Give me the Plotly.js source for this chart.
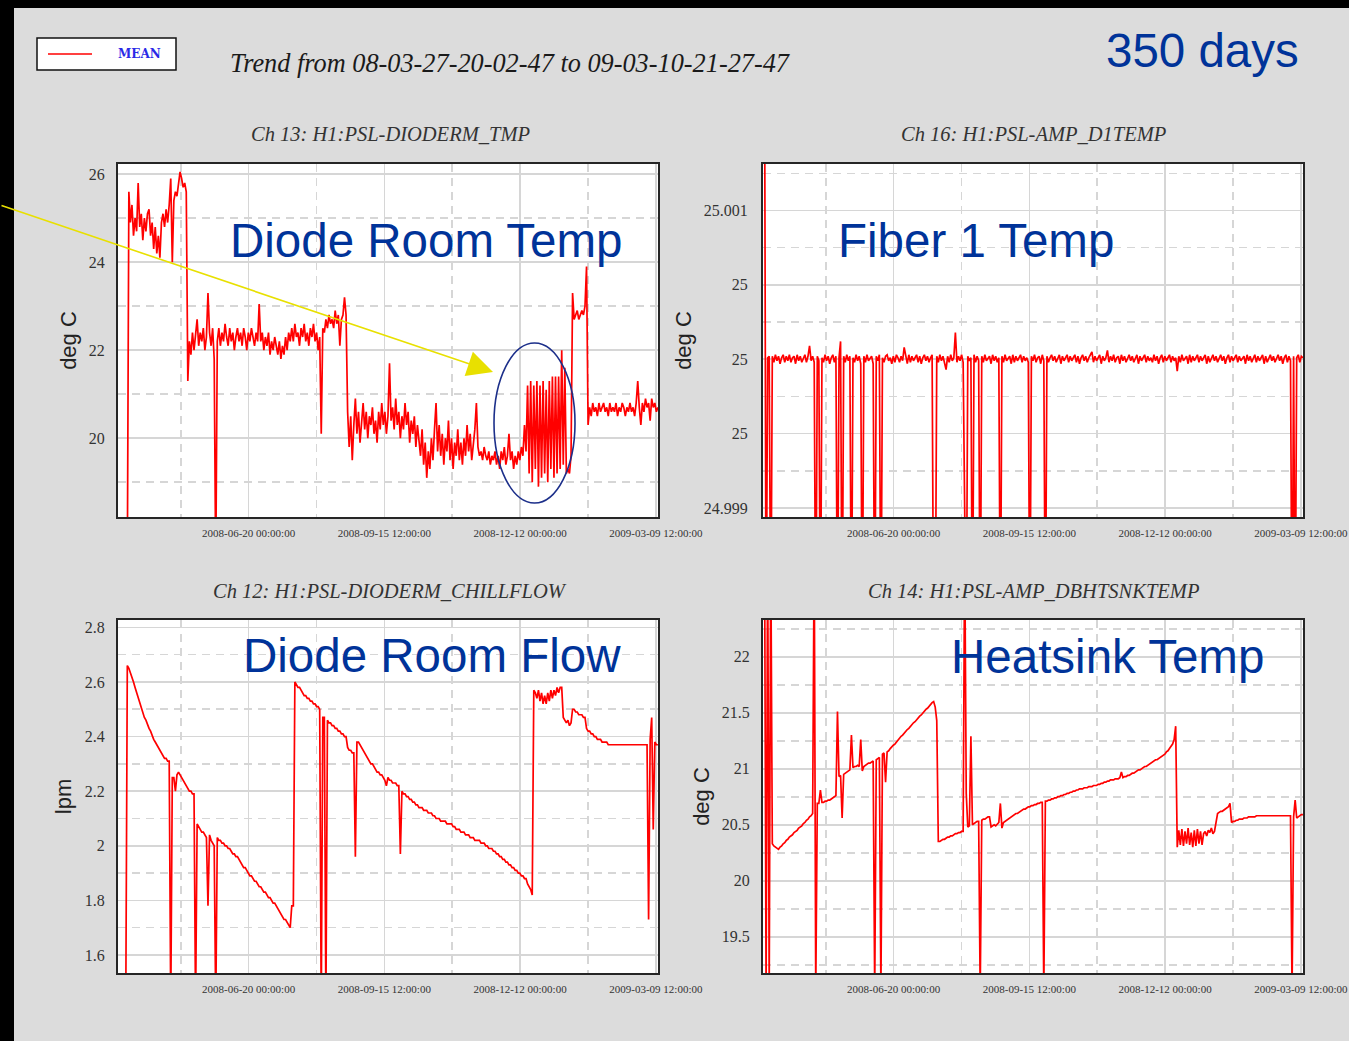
<!DOCTYPE html>
<html>
<head>
<meta charset="utf-8">
<script src="https://cdn.plot.ly/plotly-3.0.1.min.js"></script>
<style>
  html, body { margin: 0; padding: 0; background: #dcdcdc; overflow: hidden; }
  #chart { width: 1349px; height: 1041px; }
</style>
</head>
<body>
<div id="chart"></div>
<script>
// ---- Trend time base: one mean sample per day ----
const trendStartText = '2008-03-27 20:02:47';
const trendEndText = '2009-03-10 21:27:47';
const trendStartUTC = Date.UTC(2008, 2, 27, 20, 2, 47);
const sampleStepMs = 86400000;

// ---- Axis tick labels ----
const dateTick0 = '2008-06-20 00:00:00';
const dateTickDays = 87.5;          // 2008-06-20, 2008-09-15 12:00, 2008-12-12, 2009-03-09 12:00
const fiberTickVals = [24.999, 24.9995, 25, 25.0005, 25.001];
const fiberTickText = ['24.999', '25', '25', '25', '25.001'];

// ---- Channel titles / labels ----
const channelTitles = ['Ch 13: H1:PSL-DIODERM_TMP', 'Ch 16: H1:PSL-AMP_D1TEMP', 'Ch 12: H1:PSL-DIODERM_CHILLFLOW', 'Ch 14: H1:PSL-AMP_DBHTSNKTEMP'];
const channelLabels = ['Diode Room Temp', 'Fiber 1 Temp', 'Diode Room Flow', 'Heatsink Temp'];
const channelUnits = ['deg C', 'deg C', 'lpm', 'deg C'];

// ---- Ch 13 : diode room temperature (deg C), daily means ----
const diodeRoomTemp = [
null,null,null,null,null,null,17,25.6,24.9,25.3,
24.6,25.0,24.7,25.8,24.8,25.1,24.5,25.0,24.7,25.1,
25.2,24.6,24.9,24.3,24.8,24.2,24.6,24.1,24.9,25.1,
24.8,25.2,24.9,25.3,25.9,24.0,25.4,25.6,25.5,25.8,
26.05,25.9,25.7,25.8,25.6,21.3,22.2,21.9,22.4,22.0,
22.3,22.7,22.1,22.4,22.2,22.5,22.0,22.3,23.3,22.4,
22.1,22.5,21.8,17,22.2,22.5,22.1,22.4,22.2,22.6,
22.3,22.1,22.5,22.2,22.4,22.0,22.3,22.5,22.2,22.4,
22.1,22.5,22.3,22.0,22.4,22.2,22.5,22.3,22.1,22.4,
22.2,23.05,22.2,22.4,22.0,22.3,22.1,22.4,21.9,22.2,
22.0,22.3,22.1,21.9,22.2,21.8,22.1,21.9,22.3,22.0,
22.4,22.2,22.5,22.2,22.6,22.3,22.4,22.1,22.5,22.3,
22.6,22.2,22.4,22.1,22.5,22.3,22.6,22.2,22.4,22.0,
22.3,20.1,22.5,22.4,22.7,22.5,22.8,22.6,22.7,22.5,
22.9,22.6,22.8,22.1,22.7,22.8,23.2,22.8,20.6,19.8,
20.5,19.5,20.3,20.9,20.1,20.6,19.9,20.4,20.8,20.2,
20.6,20.0,20.5,20.3,20.7,20.1,20.4,19.9,20.6,20.2,
20.8,20.3,20.6,20.1,20.5,21.7,20.4,20.7,20.2,20.9,
20.3,20.6,20.0,20.5,20.2,20.8,20.3,20.6,19.9,20.4,
20.1,20.5,19.8,20.3,20.0,19.6,20.2,19.4,19.9,19.1,
19.7,19.3,20.0,19.5,20.2,20.8,19.7,20.3,19.6,20.1,
19.4,20.0,19.7,20.4,19.5,20.0,19.3,19.9,19.6,20.2,
19.5,19.9,19.4,20.0,19.6,20.3,19.7,20.1,19.5,19.9,
20.2,20.8,19.8,19.6,19.7,19.5,19.8,19.6,19.5,19.7,
19.4,19.6,19.5,19.7,19.4,19.6,19.3,19.7,19.5,19.8,
19.4,19.6,20.1,19.5,19.7,19.3,19.6,19.4,19.7,19.5,
19.8,19.6,20.3,19.7,21.2,19.2,21.3,19.0,21.2,19.3,
21.3,18.9,21.2,19.1,21.3,19.2,21.1,19.0,21.3,19.3,
21.4,19.1,21.4,19.2,21.4,19.3,22.0,19.4,21.6,19.2,
19.3,19.2,19.6,23.3,22.7,22.8,22.9,22.7,22.8,22.9,
22.8,23.0,23.9,20.3,20.7,20.5,20.8,20.6,20.7,20.5,
20.8,20.6,20.7,20.8,20.6,20.7,20.5,20.8,20.6,20.7,
20.6,20.8,20.5,20.7,20.6,20.8,20.7,20.5,20.7,20.6,
20.8,20.6,20.7,20.5,20.8,21.3,20.7,20.3,20.8,20.6,
20.9,20.7,20.8,20.4,20.9,20.7,20.8,20.6,20.7
];

// ---- Ch 16 : fiber 1 temperature (deg C), daily means ----
const fiberTemp = [
null,25.002,24.998,25.00001,25.00002,24.998,25.00002,24.99998,25.00003,24.99999,
25.00002,24.99997,25.00001,25.00003,24.99998,25.00002,24.99999,25.00003,24.99998,25.00001,
25.00002,24.99997,25.00003,24.99999,25.00002,24.99998,25.00001,25.00003,24.99998,25.00002,
25.00009,24.99999,25.00002,24.99998,24.998,25.00002,24.99999,24.998,25.00001,24.99998,
25.00003,24.99999,25.00002,24.99997,25.00001,25.00003,24.99998,25.00002,24.998,25.00001,
25.00012,24.998,25.00002,24.99998,25.00003,24.99999,25.00002,24.998,25.00001,24.99998,
25.00003,24.99999,25.00002,24.99997,24.998,25.00002,24.99998,25.00003,24.99999,25.00001,
25.00002,24.99997,24.998,25.00002,24.99999,25.00003,24.998,25.00001,24.99998,25.00002,
25.00003,24.99999,25.00001,24.99997,25.00002,24.99998,25.00003,25.00001,24.99998,25.00002,
24.99999,25.00008,25.00001,24.99997,25.00003,24.99998,25.00002,24.99999,25.00001,25.00003,
24.99998,25.00002,24.99997,25.00001,25.00003,24.99999,25.00002,24.99998,25.00001,25.00003,
24.998,24.998,25.00002,24.99998,25.00003,24.99999,25.00002,24.99997,24.99993,25.00002,
24.99998,25.00003,24.99999,25.00001,25.00018,24.99998,25.00002,24.99999,25.00003,24.99998,
24.998,24.998,25.00002,24.99999,25.00001,24.998,25.00003,24.99998,25.00002,24.99999,
24.998,25.00002,24.99998,25.00003,24.99999,25.00001,25.00002,24.99997,25.00003,24.99999,
25.00002,24.99998,25.00001,24.998,25.00002,24.99998,25.00003,24.99999,25.00001,25.00002,
24.99997,25.00003,24.99998,25.00002,24.99999,25.00001,25.00003,24.99998,25.00002,24.99999,
25.00001,24.99998,24.998,25.00002,24.99999,25.00003,24.99998,25.00001,25.00002,24.99997,
25.00003,24.99999,24.998,25.00002,24.99998,25.00001,25.00003,24.99999,25.00002,24.99998,
25.00001,25.00003,24.99997,25.00002,24.99999,25.00001,25.00003,24.99998,25.00002,24.99999,
25.00001,25.00003,24.99998,25.00002,24.99997,25.00001,25.00003,24.99999,25.00002,24.99998,
25.00001,25.00003,25.00005,24.99998,25.00002,24.99999,25.00001,25.00003,24.99997,25.00002,
24.99999,25.00001,25.00006,24.99998,25.00002,24.99999,25.00003,24.99998,25.00001,25.00002,
24.99997,25.00003,24.99999,25.00002,24.99998,25.00001,25.00003,24.99999,25.00002,24.99998,
25.00001,25.00003,24.99997,25.00002,24.99999,25.00001,25.00003,24.99998,25.00002,24.99999,
25.00001,24.99998,25.00003,24.99999,25.00002,24.99997,25.00001,25.00003,24.99998,25.00002,
24.99999,25.00001,25.00003,24.99998,25.00002,24.99999,25.00001,24.99992,25.00002,24.99998,
25.00003,24.99999,25.00001,25.00002,24.99997,25.00003,24.99998,25.00002,24.99999,25.00001,
25.00003,24.99998,25.00002,24.99999,25.00001,25.00003,24.99997,25.00002,24.99998,25.00001,
25.00003,24.99999,25.00002,24.99998,25.00001,25.00003,24.99999,25.00002,24.99997,25.00001,
25.00003,24.99998,25.00002,24.99999,25.00001,25.00003,24.99998,25.00002,24.99999,25.00001,
25.00002,24.99997,25.00003,24.99999,25.00002,24.99998,25.00001,25.00003,24.99998,25.00002,
24.99999,25.00001,25.00003,24.99997,25.00002,24.99998,25.00001,25.00003,24.99999,25.00002,
24.99998,25.00001,25.00003,24.99999,25.00002,24.99997,25.00001,25.00003,24.99998,25.00002,
24.99999,24.998,25.00002,24.998,25.00001,25.00003,24.99998,25.00002,25.00001
];

// ---- Ch 12 : diode room chiller flow (lpm), daily means ----
const chillFlow = [
null,null,null,null,null,1.4,2.66,2.65,2.63,2.62,
2.60,2.58,2.56,2.54,2.52,2.50,2.49,2.47,2.46,2.44,
2.43,2.42,2.40,2.39,2.38,2.37,2.36,2.35,2.34,2.33,
2.32,2.32,2.31,2.31,1.4,2.25,2.25,2.20,2.26,2.27,
2.26,2.25,2.24,2.23,2.22,2.21,2.20,2.20,2.19,2.19,
1.4,2.08,2.07,2.06,2.05,2.05,2.04,2.03,1.78,2.04,
2.02,2.01,2.00,1.4,2.03,2.02,2.02,2.01,2.01,2.00,
2.00,1.99,1.99,1.98,1.97,1.97,1.96,1.96,1.95,1.94,
1.93,1.92,1.92,1.91,1.90,1.89,1.89,1.88,1.87,1.87,
1.86,1.85,1.85,1.84,1.83,1.83,1.82,1.81,1.81,1.80,
1.79,1.79,1.78,1.77,1.76,1.75,1.74,1.73,1.73,1.72,
1.71,1.70,1.78,1.78,2.60,2.59,2.58,2.58,2.57,2.56,
2.55,2.55,2.54,2.54,2.53,2.53,2.52,2.52,2.51,2.51,
2.50,1.4,2.47,2.47,1.4,2.46,2.45,2.45,2.44,2.44,
2.43,2.43,2.42,2.42,2.41,2.41,2.40,2.40,2.36,2.35,
2.35,2.34,2.34,1.96,2.38,2.38,2.37,2.36,2.35,2.34,
2.33,2.32,2.31,2.30,2.30,2.29,2.28,2.27,2.27,2.26,
2.26,2.25,2.24,2.22,2.25,2.24,2.24,2.23,2.23,2.23,
2.22,2.22,1.97,2.20,2.19,2.19,2.18,2.18,2.17,2.17,
2.16,2.16,2.15,2.15,2.14,2.14,2.14,2.13,2.13,2.13,
2.12,2.12,2.12,2.11,2.11,2.10,2.10,2.10,2.09,2.09,
2.09,2.09,2.08,2.08,2.08,2.08,2.07,2.07,2.06,2.06,
2.06,2.05,2.05,2.05,2.04,2.04,2.04,2.03,2.03,2.03,
2.02,2.02,2.02,2.02,2.01,2.01,2.01,2.00,2.00,1.99,
1.99,1.99,1.98,1.98,1.97,1.97,1.96,1.96,1.95,1.95,
1.94,1.94,1.93,1.93,1.92,1.92,1.91,1.91,1.90,1.90,
1.89,1.89,1.88,1.88,1.86,1.85,1.84,1.82,2.57,2.56,
2.54,2.57,2.53,2.56,2.52,2.55,2.52,2.56,2.53,2.57,
2.54,2.57,2.55,2.58,2.56,2.58,2.58,2.47,2.46,2.45,
2.46,2.44,2.45,2.50,2.50,2.49,2.49,2.48,2.48,2.48,
2.47,2.47,2.43,2.42,2.42,2.41,2.41,2.40,2.40,2.39,
2.39,2.39,2.38,2.38,2.38,2.38,2.37,2.37,2.37,2.37,
2.37,2.37,2.37,2.37,2.37,2.37,2.37,2.37,2.37,2.37,
2.37,2.37,2.37,2.37,2.37,2.37,2.37,2.37,2.37,2.37,
2.37,2.37,1.73,2.39,2.47,2.06,2.38,2.37,2.37
];

// ---- Ch 14 : amplifier heatsink temperature (deg C), daily means ----
const heatsinkTemp = [
null,23,19,23,19,23,20.33,20.31,20.30,20.29,
20.28,20.30,20.31,20.33,20.34,20.36,20.37,20.39,20.40,20.41,
20.43,20.44,20.45,20.47,20.48,20.49,20.51,20.52,20.54,20.55,
20.57,20.58,20.60,23,19,20.69,20.69,20.81,20.70,20.70,
20.71,20.71,20.72,20.72,20.73,20.74,20.75,20.76,21.51,20.93,
20.94,20.56,20.95,20.96,20.97,20.98,20.99,21.30,21.01,21.02,
21.02,21.03,21.02,21.26,20.98,21.02,21.03,21.04,21.05,21.05,
21.06,21.07,19,21.08,21.09,21.10,19,21.13,21.14,20.88,
21.15,21.16,21.18,21.20,21.21,21.22,21.24,21.26,21.27,21.29,
21.30,21.32,21.33,21.35,21.36,21.38,21.39,21.41,21.42,21.44,
21.45,21.47,21.48,21.50,21.51,21.53,21.54,21.56,21.57,21.59,
21.60,21.55,21.43,20.35,20.35,20.36,20.37,20.37,20.38,20.39,
20.39,20.40,20.40,20.41,20.42,20.42,20.43,20.43,20.44,20.44,
23,20.78,20.48,20.49,21.29,20.50,20.51,20.52,20.53,20.53,
19,20.54,20.55,20.55,20.56,20.57,20.57,20.48,20.49,20.50,
20.49,20.51,20.52,20.69,20.47,20.52,20.53,20.54,20.55,20.56,
20.57,20.58,20.59,20.60,20.60,20.61,20.62,20.63,20.64,20.64,
20.65,20.66,20.66,20.67,20.67,20.68,20.68,20.69,20.69,20.70,
20.70,19,20.71,20.71,20.72,20.72,20.73,20.73,20.74,20.74,
20.75,20.75,20.76,20.76,20.77,20.77,20.78,20.78,20.79,20.79,
20.80,20.80,20.81,20.81,20.82,20.82,20.82,20.83,20.83,20.83,
20.84,20.84,20.84,20.85,20.85,20.85,20.86,20.86,20.87,20.87,
20.88,20.88,20.89,20.89,20.90,20.90,20.90,20.91,20.91,20.91,
20.92,20.97,20.92,20.93,20.93,20.94,20.94,20.95,20.96,20.96,
20.97,20.98,20.99,20.99,21.00,21.01,21.02,21.02,21.03,21.04,
21.05,21.06,21.07,21.08,21.08,21.09,21.10,21.11,21.12,21.13,
21.15,21.16,21.18,21.20,21.22,21.26,21.38,20.30,20.45,20.32,
20.46,20.31,20.44,20.33,20.47,20.32,20.43,20.30,20.45,20.31,
20.46,20.33,20.44,20.32,20.42,20.44,20.40,20.45,20.43,20.47,
20.42,20.44,20.52,20.60,20.61,20.62,20.62,20.63,20.64,20.65,
20.66,20.69,20.52,20.53,20.53,20.54,20.54,20.55,20.55,20.55,
20.56,20.56,20.56,20.57,20.57,20.57,20.57,20.57,20.58,20.58,
20.58,20.58,20.58,20.58,20.58,20.58,20.58,20.58,20.58,20.58,
20.58,20.58,20.58,20.58,20.58,20.58,20.58,20.58,20.58,20.58,
20.58,19,20.57,20.72,20.56,20.57,20.58,20.59,20.59
];

// ---------------------------------------------------------------
function sampleTimes(values) {
  return values.map((v, i) => new Date(trendStartUTC + i * sampleStepMs).toISOString().replace('T', ' ').slice(0, 19));
}

const W = 1349, H = 1041;
const px = x => x / W;
const py = y => 1 - y / H;
const dayMs = 86400000;
const gridColor = '#d6d6d6';
const frameColor = '#262626';
const traceColor = '#ff0000';
const labelBlue = '#003399';

function xAxis(left, right, anchor) {
  return {
    type: 'date', domain: [px(left), px(right)], anchor: anchor,
    range: [trendStartText, trendEndText],
    tickmode: 'linear', tick0: dateTick0, dtick: dateTickDays * dayMs,
    tickformat: '%Y-%m-%d %H:%M:%S', tickangle: 0,
    tickfont: { family: 'Liberation Serif', size: 11, color: '#333' },
    ticks: '', ticklabelstandoff: 5,
    showgrid: true, gridcolor: gridColor, gridwidth: 1.6,
    minor: { tick0: dateTick0, dtick: dateTickDays / 2 * dayMs, showgrid: true, gridcolor: gridColor, gridwidth: 1.6, griddash: '8px,6px' },
    showline: true, linecolor: frameColor, linewidth: 2, mirror: true,
    zeroline: false, automargin: false, fixedrange: true
  };
}
function yAxis(top, bottom, anchor, range, extra, unit, standoff) {
  return Object.assign({
    domain: [py(bottom), py(top)], anchor: anchor, range: range,
    tickfont: { family: 'Liberation Serif', size: 16, color: '#333' },
    ticks: '', ticklabelstandoff: 8,
    showgrid: true, gridcolor: gridColor, gridwidth: 1.6,
    showline: true, linecolor: frameColor, linewidth: 2, mirror: true,
    zeroline: false, automargin: false, fixedrange: true,
    title: { text: unit, standoff: standoff, font: { family: 'Liberation Sans', size: 22, color: '#222' } }
  }, extra);
}

const minorGrid = d => ({ dtick: d, showgrid: true, gridcolor: gridColor, gridwidth: 1.6, griddash: '8px,6px' });

function trace(values, xa, ya) {
  return {
    type: 'scatter', mode: 'lines', name: 'MEAN',
    x: sampleTimes(values), y: values, xaxis: xa, yaxis: ya,
    line: { color: traceColor, width: 1.7 }, connectgaps: false,
    showlegend: false, hoverinfo: 'skip'
  };
}

const data = [
  trace(diodeRoomTemp, 'x', 'y'),
  trace(fiberTemp, 'x2', 'y2'),
  trace(chillFlow, 'x3', 'y3'),
  trace(heatsinkTemp, 'x4', 'y4')
];

const serifItalic = (size, color) => ({ family: 'Liberation Serif', size: size, color: color, style: 'italic' });
const bigBlue = { family: 'Liberation Sans', size: 47.5, color: labelBlue };
function label(text, x, y, font) {
  return { text: text, xref: 'paper', yref: 'paper', x: px(x), y: py(y), xanchor: 'center', yanchor: 'middle', showarrow: false, font: font };
}

const layout = {
  width: W, height: H,
  margin: { l: 0, r: 0, t: 0, b: 0, pad: 0 },
  paper_bgcolor: '#dcdcdc', plot_bgcolor: '#ffffff',
  showlegend: false, hovermode: false,
  title: {
    text: 'Trend from 08-03-27-20-02-47 to 09-03-10-21-27-47',
    xref: 'paper', yref: 'paper', x: px(230), xanchor: 'left', y: py(63), yanchor: 'middle',
    font: serifItalic(26.3, '#1a1a1a')
  },
  xaxis: xAxis(118, 658, 'y'),
  xaxis2: xAxis(763, 1303, 'y2'),
  xaxis3: xAxis(118, 658, 'y3'),
  xaxis4: xAxis(763, 1303, 'y4'),
  yaxis: yAxis(164, 517, 'x', [18.21, 26.23], { tick0: 0, dtick: 2, minor: minorGrid(1) }, channelUnits[0], 6),
  yaxis2: yAxis(164, 517, 'x2', [24.9989395, 25.0013126], { tickmode: 'array', tickvals: fiberTickVals, ticktext: fiberTickText, ticklabelstandoff: 10, minor: Object.assign({ tick0: 25 }, minorGrid(0.00025)) }, channelUnits[1], 6),
  yaxis3: yAxis(620, 973, 'x3', [1.534, 2.827], { tick0: 0, dtick: 0.2, minor: minorGrid(0.1) }, channelUnits[2], 7),
  yaxis4: yAxis(620, 973, 'x4', [19.176, 22.328], { tick0: 0, dtick: 0.5, minor: minorGrid(0.25) }, channelUnits[3], 6),
  shapes: [
    { type: 'rect', xref: 'paper', yref: 'paper', x0: 0, x1: 1, y0: py(8), y1: 1, fillcolor: '#000', line: { width: 0 }, layer: 'below' },
    { type: 'rect', xref: 'paper', yref: 'paper', x0: 0, x1: px(14), y0: 0, y1: 1, fillcolor: '#000', line: { width: 0 }, layer: 'below' },
    { type: 'rect', xref: 'paper', yref: 'paper', x0: px(37), x1: px(176), y0: py(70), y1: py(38), fillcolor: '#fff', line: { color: '#111', width: 1.5 } },
    { type: 'line', xref: 'paper', yref: 'paper', x0: px(48), x1: px(92), y0: py(54), y1: py(54), line: { color: traceColor, width: 1.5 } },
    { type: 'circle', xref: 'paper', yref: 'paper', x0: px(494), x1: px(575), y0: py(503), y1: py(343), line: { color: '#1c2f8a', width: 1.6 } }
  ],
  annotations: [
    label('MEAN', 139, 54, { family: 'DejaVu Serif', size: 12, color: '#2a2ae6', weight: 'bold' }),
    label('350 days', 1202, 50, bigBlue),
    label(channelTitles[0], 390, 134, serifItalic(20.5, '#333')),
    label(channelTitles[1], 1033, 134, serifItalic(20.5, '#333')),
    label(channelTitles[2], 390, 591, serifItalic(20.5, '#333')),
    label(channelTitles[3], 1033, 591, serifItalic(20.5, '#333')),
    label(channelLabels[0], 426, 240, bigBlue),
    label(channelLabels[1], 976, 240, bigBlue),
    label(channelLabels[2], 432, 655, bigBlue),
    label(channelLabels[3], 1107, 656, bigBlue),
    { text: '', xref: 'paper', yref: 'paper', x: px(493), y: py(372), showarrow: true,
      ax: -493, ay: -167, axref: 'pixel', ayref: 'pixel',
      arrowhead: 2, arrowsize: 3.2, arrowwidth: 1.6, arrowcolor: '#e8e000', standoff: 0 }
  ]
};

Plotly.newPlot('chart', data, layout, { displayModeBar: false, staticPlot: true });
</script>
</body>
</html>
